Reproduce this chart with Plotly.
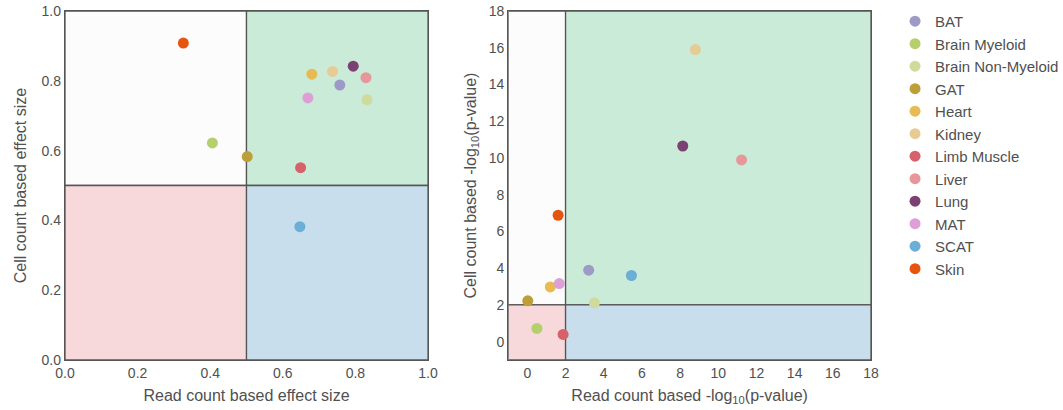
import plotly.graph_objects as go

tissues = ["BAT", "Brain Myeloid", "Brain Non-Myeloid", "GAT", "Heart", "Kidney",
           "Limb Muscle", "Liver", "Lung", "MAT", "SCAT", "Skin"]
colors = ["#9e9ac8", "#b5cf6b", "#cedb9c", "#bd9e39", "#e7ba52", "#e7cb94",
          "#d6616b", "#e7969c", "#7b4173", "#de9ed6", "#6baed6", "#e6550d"]

# Left panel: effect sizes
read_effect = [0.757, 0.406, 0.832, 0.502, 0.680, 0.737, 0.649, 0.829, 0.794, 0.669, 0.647, 0.326]
cell_effect = [0.788, 0.622, 0.746, 0.583, 0.819, 0.827, 0.551, 0.809, 0.842, 0.751, 0.382, 0.908]

# Right panel: -log10(p-value)
read_logp = [3.21, 0.50, 3.51, 0.02, 1.20, 8.80, 1.87, 11.22, 8.14, 1.67, 5.45, 1.61]
cell_logp = [3.89, 0.72, 2.11, 2.22, 2.98, 15.90, 0.39, 9.89, 10.65, 3.16, 3.60, 6.88]

effect_thr = 0.5
logp_thr = 2.0
effect_range = [0.0, 1.0]
logp_range = [-1.0, 18.0]
effect_ticks = [0.0, 0.2, 0.4, 0.6, 0.8, 1.0]
logp_ticks = list(range(0, 19, 2))

quad_colors = {"tl": "#fbfcfb", "tr": "#cbebd9", "bl": "#f7d9db", "br": "#c8deed"}
line_col = "#555555"
text_col = "#505050"
font_family = "Liberation Sans, Arial, sans-serif"

fig = go.Figure()

for i, t in enumerate(tissues):
    fig.add_trace(go.Scatter(x=[read_effect[i]], y=[cell_effect[i]], mode="markers",
                             name=t, legendgroup=t,
                             marker=dict(color=colors[i], size=11, line=dict(width=0)),
                             xaxis="x", yaxis="y"))
    fig.add_trace(go.Scatter(x=[read_logp[i]], y=[cell_logp[i]], mode="markers",
                             name=t, legendgroup=t, showlegend=False,
                             marker=dict(color=colors[i], size=11, line=dict(width=0)),
                             xaxis="x2", yaxis="y2"))

def quadrants(xref, yref, xr, yr, tx, ty):
    shapes = []
    quads = [("tl", xr[0], tx, ty, yr[1]), ("tr", tx, xr[1], ty, yr[1]),
             ("bl", xr[0], tx, yr[0], ty), ("br", tx, xr[1], yr[0], ty)]
    for key, x0, x1, y0, y1 in quads:
        shapes.append(dict(type="rect", xref=xref, yref=yref, x0=x0, x1=x1, y0=y0, y1=y1,
                           fillcolor=quad_colors[key], line=dict(color=line_col, width=1.3),
                           layer="below"))
    return shapes

shapes = quadrants("x", "y", effect_range, effect_range, effect_thr, effect_thr)
shapes += quadrants("x2", "y2", logp_range, logp_range, logp_thr, logp_thr)

axis_common = dict(showgrid=False, zeroline=False, showline=True, mirror=True,
                   linecolor=line_col, linewidth=1.3, ticks="", automargin=False,
                   tickfont=dict(size=14, color=text_col, family=font_family))

fig.update_layout(
    width=1063, height=410,
    margin=dict(l=65, r=192, t=11, b=50, autoexpand=False),
    paper_bgcolor="white", plot_bgcolor="white",
    font=dict(family=font_family, color=text_col),
    shapes=shapes,
    xaxis=dict(domain=[0, 0.4504], range=effect_range, tickvals=effect_ticks,
               tickformat=".1f", title=dict(text="Read count based effect size",
               font=dict(size=16, color=text_col), standoff=9), **axis_common),
    yaxis=dict(domain=[0, 1], range=effect_range, tickvals=effect_ticks,
               tickformat=".1f", title=dict(text="Cell count based effect size",
               font=dict(size=16, color=text_col), standoff=10), **axis_common),
    xaxis2=dict(domain=[0.55, 1], range=logp_range, tickvals=logp_ticks, anchor="y2",
                title=dict(text="Read count based -log<sub>10</sub>(p-value)",
                font=dict(size=16, color=text_col), standoff=9), **axis_common),
    yaxis2=dict(domain=[0, 1], range=logp_range, tickvals=logp_ticks, anchor="x2",
                title=dict(text="Cell count based -log<sub>10</sub>(p-value)",
                font=dict(size=16, color=text_col), standoff=8), **axis_common),
    legend=dict(xref="container", yref="container", x=0.842, y=0.988,
                xanchor="left", yanchor="top", maxheight=400,
                font=dict(size=15, color=text_col, family=font_family),
                bgcolor="rgba(0,0,0,0)", tracegroupgap=0),
)

fig.write_html("out.html")
